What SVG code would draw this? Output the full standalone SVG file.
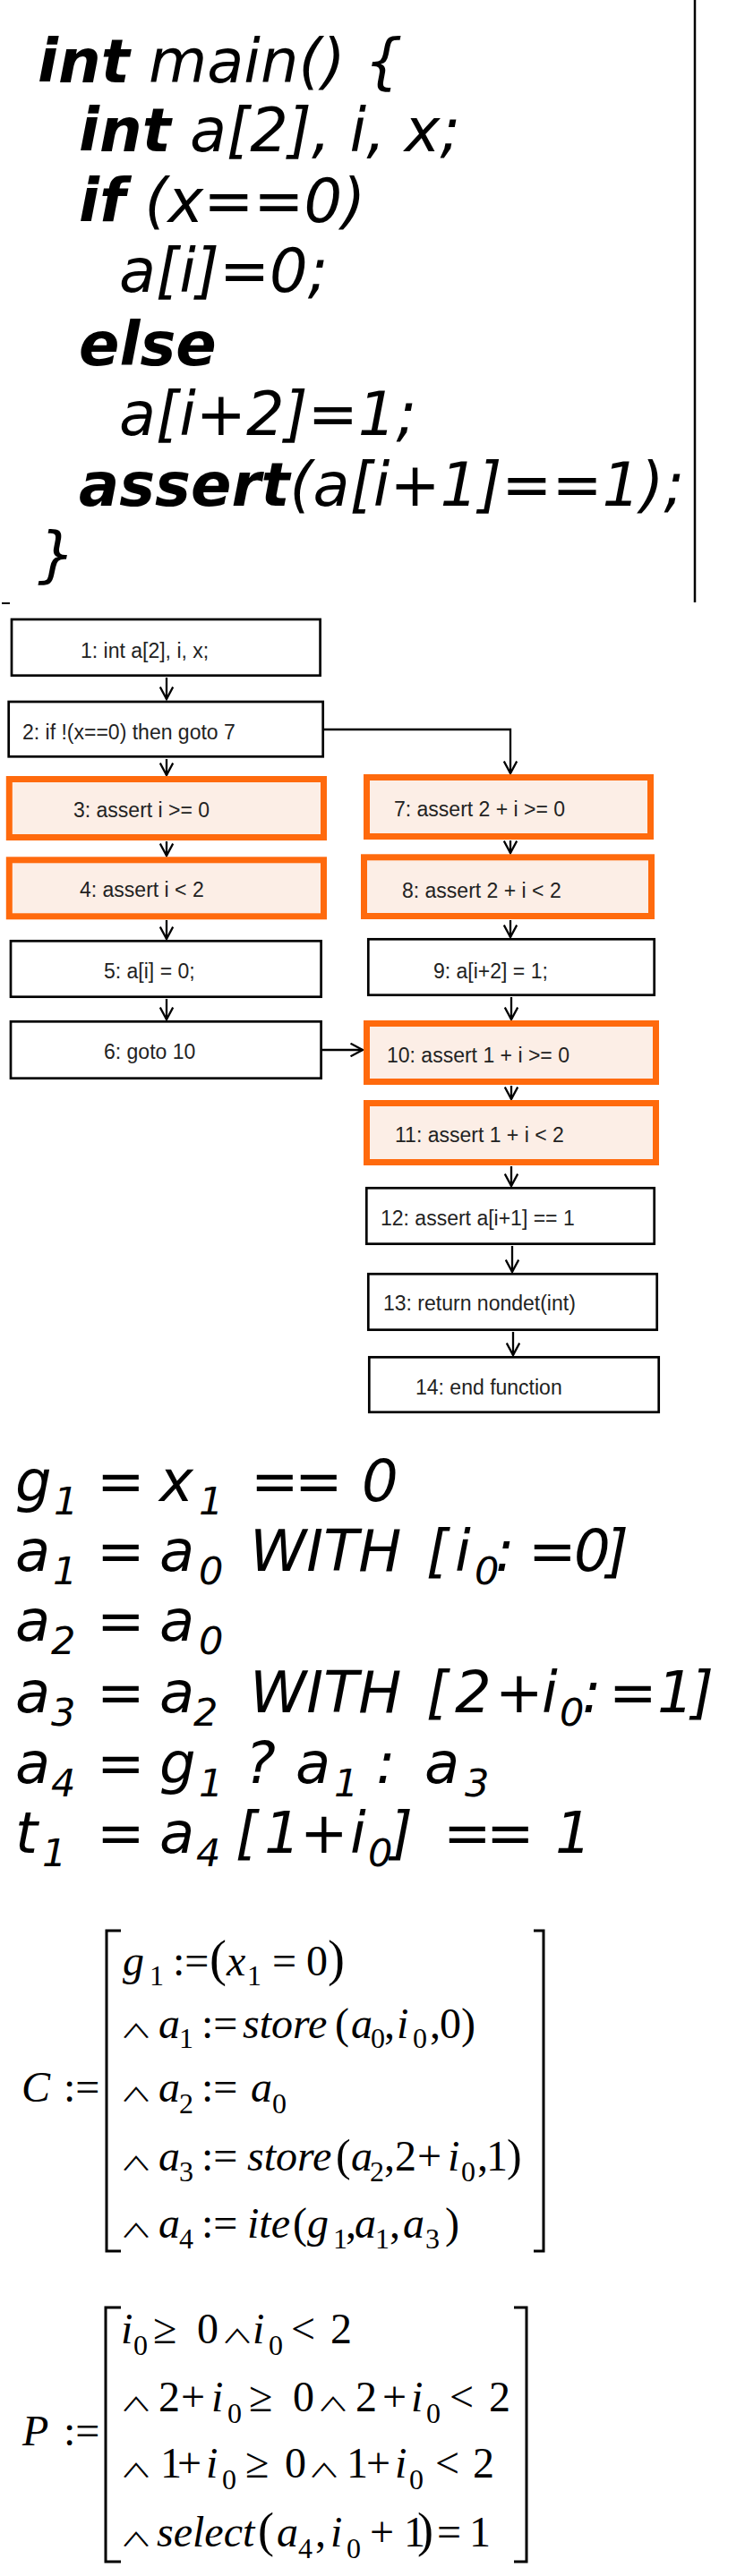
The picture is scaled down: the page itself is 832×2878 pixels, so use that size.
<svg xmlns="http://www.w3.org/2000/svg" width="832" height="2878" viewBox="0 0 832 2878">
<defs>
<style>
.code{font-family:"DejaVu Sans",sans-serif;font-size:67px;font-style:oblique;fill:#000}
.kw{font-weight:bold}
.box{fill:#fff;stroke:#000;stroke-width:2.7}
.hl{fill:#FCEEE6;stroke:#FF6A0D;stroke-width:7}
.lbl{font-family:"Liberation Sans",Arial,sans-serif;font-size:23px;fill:#222}
.edge{fill:none;stroke:#000;stroke-width:2.3;marker-end:url(#ah)}
.f{font-family:"DejaVu Sans",sans-serif;font-size:64px;font-style:oblique;fill:#000}
.fs{font-size:43px}
.m{font-family:"Liberation Serif","Times New Roman",serif;font-size:48px;fill:#000}
.i{font-style:italic}
.s{font-size:32px;font-style:normal}
.w{font-family:"Noto Sans CJK JP","DejaVu Sans",sans-serif;font-size:36px;fill:#000;text-anchor:middle}
.br{fill:none;stroke:#000;stroke-width:3}
</style>
<marker id="ah" viewBox="0 0 16 16" refX="14.5" refY="8" markerWidth="16" markerHeight="16" markerUnits="userSpaceOnUse" orient="auto">
<path d="M1,0.8 L14.5,8 L1,15.2" fill="none" stroke="#000" stroke-width="2.3"/>
</marker>
</defs>
<rect width="832" height="2878" fill="#fff"/>

<g id="code">
<text class="code" x="42" y="92"><tspan class="kw">int</tspan> main() {</text>
<text class="code" x="88" y="169"><tspan class="kw">int</tspan> a[2], i, x;</text>
<text class="code" x="88" y="248"><tspan class="kw">if</tspan> (x==0)</text>
<text class="code" x="133" y="326">a[i]=0;</text>
<text class="code" x="88" y="408"><tspan class="kw">else</tspan></text>
<text class="code" x="133" y="486">a[i+2]=1;</text>
<text class="code" x="88" y="565"><tspan class="kw">assert</tspan>(a[i+1]==1);</text>
<text class="code" x="42" y="643">}</text>
<line x1="776" y1="0" x2="776" y2="673" stroke="#000" stroke-width="2.5"/>
<line x1="2" y1="674" x2="11" y2="674" stroke="#000" stroke-width="2"/>
</g>

<g id="connectors">
<path class="edge" d="M186,757 V781"/>
<path class="edge" d="M186,848 V866"/>
<path class="edge" d="M186,940 V956"/>
<path class="edge" d="M186,1028 V1049"/>
<path class="edge" d="M186,1116 V1139"/>
<path class="edge" d="M362,815 H570 V864"/>
<path class="edge" d="M570,939 V953"/>
<path class="edge" d="M570,1028 V1047"/>
<path class="edge" d="M571,1114 V1139"/>
<path class="edge" d="M360,1173 H405"/>
<path class="edge" d="M571,1213 V1228"/>
<path class="edge" d="M571,1303 V1325"/>
<path class="edge" d="M572,1392 V1421"/>
<path class="edge" d="M573,1488 V1514"/>
</g>

<g id="n1"><rect class="box" x="13" y="692" width="344.6" height="62.7"/><text class="lbl" x="90" y="735">1: int a[2], i, x;</text></g>
<g id="n2"><rect class="box" x="9.7" y="784" width="351" height="61.3"/><text class="lbl" x="25" y="826">2: if !(x==0) then goto 7</text></g>
<g id="n3"><rect class="hl" x="10.3" y="870.5" width="351.2" height="65"/><text class="lbl" x="82" y="913">3: assert i &gt;= 0</text></g>
<g id="n4"><rect class="hl" x="10.3" y="960.8" width="351.2" height="63"/><text class="lbl" x="89" y="1002">4: assert i &lt; 2</text></g>
<g id="n5"><rect class="box" x="12" y="1051.3" width="346.6" height="62.4"/><text class="lbl" x="116" y="1093">5: a[i] = 0;</text></g>
<g id="n6"><rect class="box" x="12" y="1141.3" width="346.6" height="63.4"/><text class="lbl" x="116" y="1183">6: goto 10</text></g>
<g id="n7"><rect class="hl" x="409.5" y="868.5" width="317" height="66"/><text class="lbl" x="440" y="912">7: assert 2 + i &gt;= 0</text></g>
<g id="n8"><rect class="hl" x="406.5" y="957.8" width="321" height="65.7"/><text class="lbl" x="449" y="1003">8: assert 2 + i &lt; 2</text></g>
<g id="n9"><rect class="box" x="411.3" y="1049.3" width="319.4" height="62.4"/><text class="lbl" x="484" y="1093">9: a[i+2] = 1;</text></g>
<g id="n10"><rect class="hl" x="409.5" y="1143.5" width="323" height="65"/><text class="lbl" x="432" y="1187">10: assert 1 + i &gt;= 0</text></g>
<g id="n11"><rect class="hl" x="409.5" y="1232.5" width="323" height="66"/><text class="lbl" x="441" y="1276">11: assert 1 + i &lt; 2</text></g>
<g id="n12"><rect class="box" x="409.3" y="1327.3" width="321.4" height="62.4"/><text class="lbl" x="425" y="1369">12: assert a[i+1] == 1</text></g>
<g id="n13"><rect class="box" x="411.3" y="1423.3" width="322.4" height="62.4"/><text class="lbl" x="428" y="1464">13: return nondet(int)</text></g>
<g id="n14"><rect class="box" x="412.3" y="1516.3" width="323.4" height="61.4"/><text class="lbl" x="464" y="1558">14: end function</text></g>

<g id="ssa">
<text class="f"><tspan x="17" y="1677">g</tspan><tspan class="fs" x="60" y="1692">1</tspan><tspan x="108" y="1677">=</tspan><tspan x="178" y="1677">x</tspan><tspan class="fs" x="222" y="1692">1</tspan><tspan x="280" y="1677">=</tspan><tspan x="329" y="1677">=</tspan><tspan x="404" y="1677">0</tspan></text>
<text class="f"><tspan x="17" y="1755">a</tspan><tspan class="fs" x="59" y="1770">1</tspan><tspan x="108" y="1755">=</tspan><tspan x="178" y="1755">a</tspan><tspan class="fs" x="222" y="1770">0</tspan><tspan x="279" y="1755">WITH</tspan><tspan x="476" y="1755">[</tspan><tspan x="508" y="1755">i</tspan><tspan class="fs" x="530" y="1770">0</tspan><tspan x="553" y="1755">:</tspan><tspan x="590" y="1755">=</tspan><tspan x="641" y="1755">0</tspan><tspan x="677" y="1755">]</tspan></text>
<text class="f"><tspan x="17" y="1833">a</tspan><tspan class="fs" x="57" y="1848">2</tspan><tspan x="108" y="1833">=</tspan><tspan x="178" y="1833">a</tspan><tspan class="fs" x="222" y="1848">0</tspan></text>
<text class="f"><tspan x="17" y="1913">a</tspan><tspan class="fs" x="57" y="1928">3</tspan><tspan x="108" y="1913">=</tspan><tspan x="178" y="1913">a</tspan><tspan class="fs" x="216" y="1928">2</tspan><tspan x="279" y="1913">WITH</tspan><tspan x="476" y="1913">[</tspan><tspan x="508" y="1913">2</tspan><tspan x="553" y="1913">+</tspan><tspan x="605" y="1913">i</tspan><tspan class="fs" x="625" y="1928">0</tspan><tspan x="650" y="1913">:</tspan><tspan x="680" y="1913">=</tspan><tspan x="734" y="1913">1</tspan><tspan x="772" y="1913">]</tspan></text>
<text class="f"><tspan x="17" y="1992">a</tspan><tspan class="fs" x="57" y="2007">4</tspan><tspan x="108" y="1992">=</tspan><tspan x="178" y="1992">g</tspan><tspan class="fs" x="222" y="2007">1</tspan><tspan x="274" y="1992">?</tspan><tspan x="330" y="1992">a</tspan><tspan class="fs" x="373" y="2007">1</tspan><tspan x="420" y="1992">:</tspan><tspan x="474" y="1992">a</tspan><tspan class="fs" x="519" y="2007">3</tspan></text>
<text class="f"><tspan x="17" y="2070">t</tspan><tspan class="fs" x="47" y="2085">1</tspan><tspan x="108" y="2070">=</tspan><tspan x="178" y="2070">a</tspan><tspan class="fs" x="219" y="2085">4</tspan><tspan x="263" y="2070">[</tspan><tspan x="295" y="2070">1</tspan><tspan x="335" y="2070">+</tspan><tspan x="391" y="2070">i</tspan><tspan class="fs" x="411" y="2085">0</tspan><tspan x="436" y="2070">]</tspan><tspan x="495" y="2070">=</tspan><tspan x="543" y="2070">=</tspan><tspan x="620" y="2070">1</tspan></text>
</g>

<g id="matrixC">
<path class="br" d="M135,2157 H119 V2515 H135"/>
<path class="br" d="M596,2157 H607 V2515 H596"/>
<text class="m"><tspan class="i" x="24" y="2348">C</tspan><tspan x="71" y="2348">:=</tspan></text>
<text class="m"><tspan class="i" x="137" y="2207">g</tspan><tspan class="s" x="167" y="2218">1</tspan><tspan x="193" y="2207">:=</tspan><tspan x="234" y="2207" style="font-size:57px">(</tspan><tspan class="i" x="253" y="2207">x</tspan><tspan class="s" x="276" y="2218">1</tspan><tspan x="304" y="2207">=</tspan><tspan x="342" y="2207">0</tspan><tspan x="366" y="2207" style="font-size:57px">)</tspan></text>
<text class="w" transform="translate(152,2277) scale(1,0.6)">∧</text>
<text class="m"><tspan class="i" x="177" y="2277">a</tspan><tspan class="s" x="200" y="2288">1</tspan><tspan x="225" y="2277">:=</tspan><tspan class="i" x="271" y="2277">store</tspan><tspan x="374" y="2277">(</tspan><tspan class="i" x="392" y="2277">a</tspan><tspan class="s" x="414" y="2288">0</tspan><tspan x="429" y="2277">,</tspan><tspan class="i" x="443" y="2277">i</tspan><tspan class="s" x="461" y="2288">0</tspan><tspan x="480" y="2277">,</tspan><tspan x="491" y="2277">0</tspan><tspan x="515" y="2277">)</tspan></text>
<text class="w" transform="translate(152,2348) scale(1,0.6)">∧</text>
<text class="m"><tspan class="i" x="177" y="2348">a</tspan><tspan class="s" x="200" y="2361">2</tspan><tspan x="225" y="2348">:=</tspan><tspan class="i" x="280" y="2348">a</tspan><tspan class="s" x="304" y="2361">0</tspan></text>
<text class="w" transform="translate(152,2425) scale(1,0.6)">∧</text>
<text class="m"><tspan class="i" x="177" y="2425">a</tspan><tspan class="s" x="200" y="2437">3</tspan><tspan x="225" y="2425">:=</tspan><tspan class="i" x="276" y="2425">store</tspan><tspan x="375" y="2425" style="font-size:50px">(</tspan><tspan class="i" x="392" y="2425">a</tspan><tspan class="s" x="413" y="2437">2</tspan><tspan x="429" y="2425">,</tspan><tspan x="441" y="2425">2</tspan><tspan x="466" y="2425">+</tspan><tspan class="i" x="500" y="2425">i</tspan><tspan class="s" x="515" y="2437">0</tspan><tspan x="533" y="2425">,</tspan><tspan x="543" y="2425">1</tspan><tspan x="566" y="2425" style="font-size:50px">)</tspan></text>
<text class="w" transform="translate(152,2500) scale(1,0.6)">∧</text>
<text class="m"><tspan class="i" x="177" y="2500">a</tspan><tspan class="s" x="200" y="2512">4</tspan><tspan x="225" y="2500">:=</tspan><tspan class="i" x="276" y="2500">ite</tspan><tspan x="327" y="2500">(</tspan><tspan class="i" x="343" y="2500">g</tspan><tspan class="s" x="372" y="2512">1</tspan><tspan x="386" y="2500">,</tspan><tspan class="i" x="396" y="2500">a</tspan><tspan class="s" x="419" y="2512">1</tspan><tspan x="435" y="2500">,</tspan><tspan class="i" x="450" y="2500">a</tspan><tspan class="s" x="475" y="2512">3</tspan><tspan x="497" y="2500">)</tspan></text>
</g>

<g id="matrixP">
<path class="br" d="M135,2578 H118 V2862 H135"/>
<path class="br" d="M574,2578 H588 V2862 H574"/>
<text class="m"><tspan class="i" x="25" y="2732">P</tspan><tspan x="71" y="2732">:=</tspan></text>
<text class="m"><tspan class="i" x="135" y="2618">i</tspan><tspan class="s" x="149" y="2631">0</tspan><tspan x="171" y="2618">≥</tspan><tspan x="220" y="2618">0</tspan><tspan class="i" x="282" y="2618">i</tspan><tspan class="s" x="300" y="2631">0</tspan><tspan x="325" y="2618">&lt;</tspan><tspan x="369" y="2618">2</tspan></text>
<text class="w" transform="translate(265,2618) scale(1,0.6)">∧</text>
<text class="w" transform="translate(152,2694) scale(1,0.6)">∧</text>
<text class="w" transform="translate(372,2694) scale(1,0.6)">∧</text>
<text class="m"><tspan x="177" y="2694">2</tspan><tspan x="202" y="2694">+</tspan><tspan class="i" x="236" y="2694">i</tspan><tspan class="s" x="254" y="2707">0</tspan><tspan x="278" y="2694">≥</tspan><tspan x="327" y="2694">0</tspan><tspan x="397" y="2694">2</tspan><tspan x="427" y="2694">+</tspan><tspan class="i" x="459" y="2694">i</tspan><tspan class="s" x="476" y="2707">0</tspan><tspan x="502" y="2694">&lt;</tspan><tspan x="546" y="2694">2</tspan></text>
<text class="w" transform="translate(152,2768) scale(1,0.6)">∧</text>
<text class="w" transform="translate(362,2768) scale(1,0.6)">∧</text>
<text class="m"><tspan x="179" y="2768">1</tspan><tspan x="198" y="2768">+</tspan><tspan class="i" x="230" y="2768">i</tspan><tspan class="s" x="248" y="2781">0</tspan><tspan x="274" y="2768">≥</tspan><tspan x="318" y="2768">0</tspan><tspan x="387" y="2768">1</tspan><tspan x="409" y="2768">+</tspan><tspan class="i" x="441" y="2768">i</tspan><tspan class="s" x="457" y="2781">0</tspan><tspan x="486" y="2768">&lt;</tspan><tspan x="528" y="2768">2</tspan></text>
<text class="w" transform="translate(152,2845) scale(1,0.6)">∧</text>
<text class="m"><tspan class="i" x="175" y="2845">select</tspan><tspan x="288" y="2845" style="font-size:54px">(</tspan><tspan class="i" x="309" y="2845">a</tspan><tspan class="s" x="333" y="2858">4</tspan><tspan x="352" y="2845">,</tspan><tspan class="i" x="369" y="2845">i</tspan><tspan class="s" x="387" y="2858">0</tspan><tspan x="413" y="2845">+</tspan><tspan x="451" y="2845">1</tspan><tspan x="466" y="2845" style="font-size:54px">)</tspan><tspan x="488" y="2845">=</tspan><tspan x="524" y="2845">1</tspan></text>
</g>
</svg>
